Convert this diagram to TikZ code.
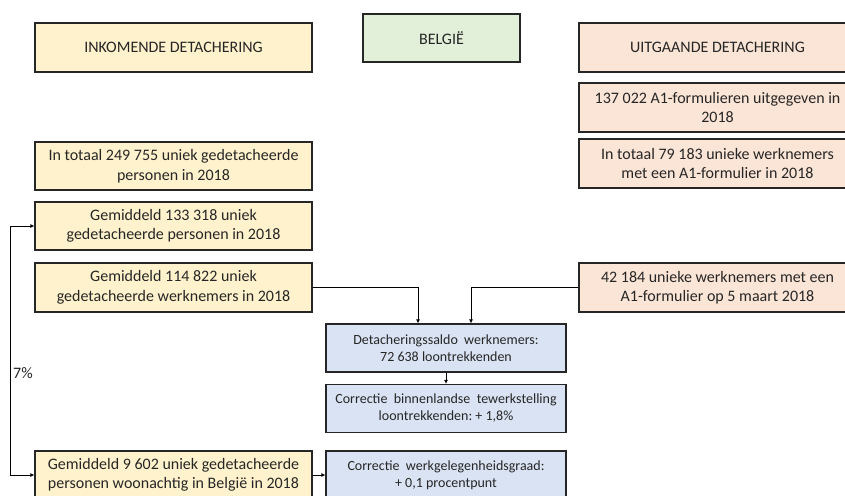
\documentclass[tikz,border=0pt]{standalone}
\usepackage{fontspec}
\setmainfont{Carlito}
\usetikzlibrary{arrows.meta}
\definecolor{yel}{HTML}{FFF2CC}
\definecolor{org}{HTML}{FBE5D6}
\definecolor{grn}{HTML}{E2F0D9}
\definecolor{blu}{HTML}{DAE3F3}
\definecolor{ink}{HTML}{262626}
\begin{document}
\begin{tikzpicture}[x=1pt,y=-1pt,
  box/.style={draw=ink, line width=1.2pt, inner sep=0pt, align=center, text=ink,
    font=\fontsize{16}{19.5}\selectfont},
  wide/.style={minimum width=277pt, minimum height=49pt},
  bluebox/.style={fill=blu, minimum width=240pt, minimum height=48pt,
    font=\fontsize{14}{17}\selectfont},
  tip/.tip={Latex[length=4pt,width=4pt]},
  conn/.style={line width=0.9pt, draw=black, -tip}]
\clip (0,0) rectangle (845,495);
\fill[white] (0,0) rectangle (845,495);

\node[box,wide,fill=yel] (inc) at (173.5,47.5) {INKOMENDE DETACHERING};
\node[box,fill=grn,minimum width=157pt,minimum height=48pt] (bel) at (441.5,38) {BELGIË};
\node[box,wide,fill=org] (uit) at (717.5,47.5) {UITGAANDE DETACHERING};
\node[box,wide,fill=org] (a1) at (717.5,107.5) {137 022 A1-formulieren uitgegeven in\\2018};
\node[box,wide,fill=org] (u79) at (717.5,163.5) {In totaal 79 183 unieke werknemers\\met een A1-formulier in 2018};
\node[box,wide,fill=yel,minimum height=48pt] (t249) at (173.5,166) {In totaal 249 755 uniek gedetacheerde\\personen in 2018};
\node[box,wide,fill=yel,minimum height=48pt] (g133) at (173.5,226) {Gemiddeld 133 318 uniek\\gedetacheerde personen in 2018};
\node[box,wide,fill=yel] (g114) at (173.5,287.5) {Gemiddeld 114 822 uniek\\gedetacheerde werknemers in 2018};
\node[box,wide,fill=org] (a42) at (717.5,287.5) {42 184 unieke werknemers met een\\A1-formulier op 5 maart 2018};
\node[box,bluebox] (saldo) at (446,348) {Detacheringssaldo\ \ werknemers:\\72 638 loontrekkenden};
\node[box,bluebox] (corr1) at (446,408.5) {Correctie\ \ binnenlandse\ \ tewerkstelling\\loontrekkenden:\ + 1,8\%};
\node[box,wide,fill=yel,minimum height=48pt] (g96) at (173.5,475) {Gemiddeld 9 602 uniek gedetacheerde\\personen woonachtig in België in 2018};
\node[box,bluebox] (corr2) at (446,475) {Correctie\ \ werkgelegenheidsgraad:\\+ 0,1 procentpunt};

\draw[conn] (g114.east) -| ([xshift=-28pt]saldo.north);
\draw[conn] (a42.west) -| ([xshift=25pt]saldo.north);
\draw[conn] (saldo) -- (corr1);
\draw[conn] (g96) -- (corr2);
\draw[conn, tip-tip] (g133.west) -- ++(-24,0) |- (g96.west);
\node[anchor=west, inner sep=0pt, text=ink, font=\fontsize{16}{19.5}\selectfont] (pct) at (13,373) {7\%};
\end{tikzpicture}
\end{document}
